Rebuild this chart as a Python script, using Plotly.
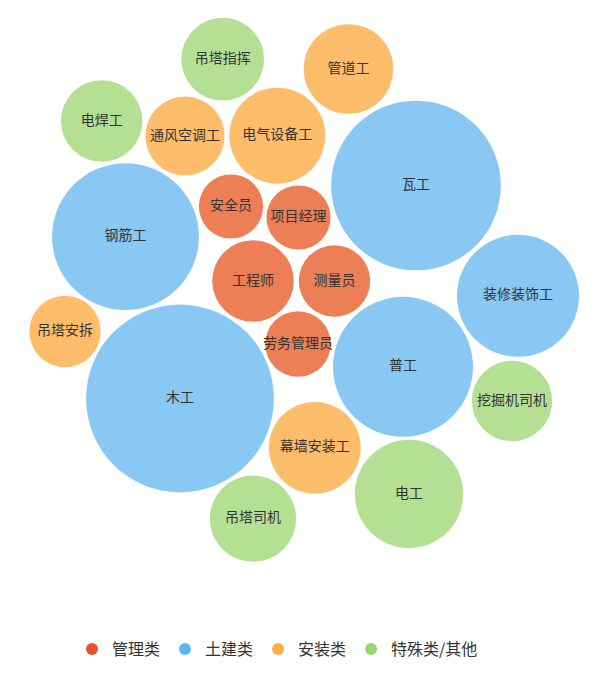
import plotly.graph_objects as go

# ---- data ----
names = ["木工", "瓦工", "钢筋工", "普工", "装修装饰工",
         "电工", "电气设备工", "幕墙安装工", "管道工", "吊塔司机",
         "电焊工", "吊塔指挥", "挖掘机司机", "工程师", "通风空调工",
         "测量员", "吊塔安拆", "劳务管理员", "安全员", "项目经理"]
categories = ["土建类", "土建类", "土建类", "土建类", "土建类",
              "特殊类/其他", "安装类", "安装类", "安装类", "特殊类/其他",
              "特殊类/其他", "特殊类/其他", "特殊类/其他", "管理类", "安装类",
              "管理类", "安装类", "管理类", "管理类", "管理类"]
values = [180, 147, 110, 100, 76,
          60, 47, 43, 41, 38,
          34, 35, 33, 34, 32,
          26, 26, 22, 21, 21]
# packed-layout positions (layout units)
layout_x = [180, 416, 125.5, 403, 518,
            409, 277.3, 314.8, 348.5, 253,
            101.7, 222.7, 512, 253, 185,
            334.5, 65, 298, 231, 298.5]
layout_y = [398.5, 185.5, 236.7, 366.8, 295.8,
            494, 135.7, 447.8, 69, 518.7,
            121, 59.2, 401, 281, 136,
            281, 331.5, 344, 206.5, 217.5]

legend_order = ["管理类", "土建类", "安装类", "特殊类/其他"]
legend_colors = {"管理类": "#E8542A", "土建类": "#5DB6F2",
                 "安装类": "#FEAD47", "特殊类/其他": "#9CD56E"}
bubble_colors = {"管理类": "#EC7F56", "土建类": "#89C8F2",
                 "安装类": "#FEBD6B", "特殊类/其他": "#B5E093"}

FONT = "Noto Sans CJK SC, Noto Sans, sans-serif"

fig = go.Figure()

for cat in legend_order:
    idx = [i for i, c in enumerate(categories) if c == cat]
    fig.add_trace(go.Scatter(
        x=[layout_x[i] for i in idx],
        y=[layout_y[i] for i in idx],
        text=[names[i] for i in idx],
        mode="markers+text",
        textposition="middle center",
        textfont=dict(family=FONT, size=14, color="#333333"),
        marker=dict(
            size=[values[i] for i in idx],
            sizemode="area",
            sizeref=2 / 196.0,
            color=bubble_colors[cat],
            opacity=1,
            line=dict(width=0),
        ),
        hoverinfo="text",
        showlegend=False,
        legendgroup=cat,
    ))

for cat in legend_order:
    fig.add_trace(go.Scatter(
        x=[None], y=[None], mode="markers", name=cat,
        marker=dict(size=14, color=legend_colors[cat], symbol="circle", opacity=1),
        legendgroup=cat, showlegend=True,
    ))

fig.update_layout(
    width=599, height=684,
    margin=dict(l=0, r=0, t=0, b=0),
    paper_bgcolor="white", plot_bgcolor="white",
    xaxis=dict(range=[8, 607], visible=False, fixedrange=True),
    yaxis=dict(range=[692, 8], visible=False, fixedrange=True),
    showlegend=True,
    legend=dict(
        orientation="h",
        x=64 / 599, xanchor="left",
        y=1 - 641 / 684, yanchor="middle",
        font=dict(family=FONT, size=16, color="#333333"),
        itemsizing="constant",
        bgcolor="rgba(0,0,0,0)",
    ),
)

fig.write_html("out.html")
